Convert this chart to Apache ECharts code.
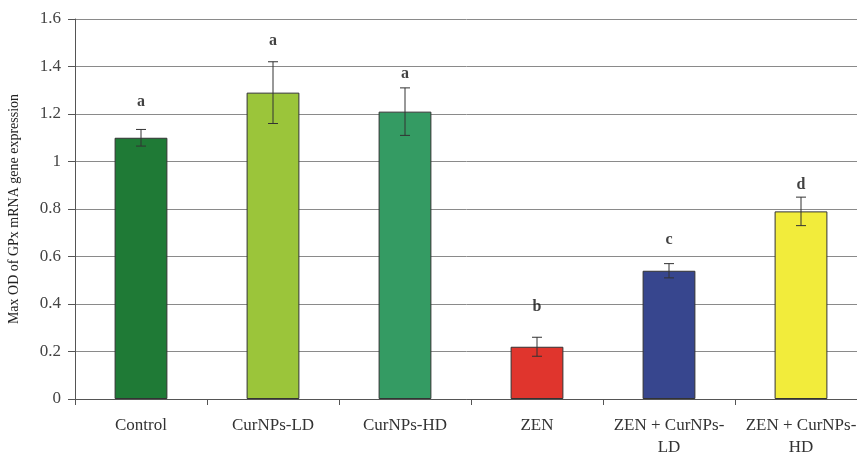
<!DOCTYPE html>
<html>
<head>
<meta charset="utf-8">
<script src="https://cdn.jsdelivr.net/npm/echarts@6/dist/echarts.min.js"></script>
<style>
  html, body { margin: 0; padding: 0; background: #fff; }
  #chart { width: 857px; height: 453px; }
</style>
</head>
<body>
<div id="chart"></div>
<script>
// valores
var categories = ['Control', 'CurNPs-LD', 'CurNPs-HD', 'ZEN', 'ZEN + CurNPs-\nLD', 'ZEN + CurNPs-\nHD'];
var means = [1.10, 1.29, 1.21, 0.22, 0.54, 0.79];
var errors = [0.035, 0.13, 0.10, 0.04, 0.03, 0.06];
var letters = ['a', 'a', 'a', 'b', 'c', 'd'];
var letterY = [1.25, 1.51, 1.37, 0.39, 0.67, 0.90];
var barColors = ['#1f7a36', '#9bc53a', '#349b63', '#e0352d', '#37468e', '#f2ec3b'];

var serif = '"Liberation Serif", "DejaVu Serif", serif';

var chart = echarts.init(document.getElementById('chart'));
chart.setOption({
  animation: false,
  grid: { left: 75, top: 19, width: 792, height: 380, outerBoundsMode: 'none', containLabel: false },
  xAxis: {
    type: 'category',
    data: categories,
    axisLine: { lineStyle: { color: '#555', width: 1 } },
    axisTick: { show: true, length: 6, lineStyle: { color: '#555' } },
    axisLabel: { color: '#333', fontFamily: serif, fontSize: 17, margin: 16, lineHeight: 22, interval: 0 }
  },
  yAxis: {
    type: 'value',
    min: 0, max: 1.6, interval: 0.2,
    name: 'Max OD of GPx mRNA gene expression',
    nameLocation: 'middle',
    nameGap: 54,
    nameTextStyle: { color: '#222', fontFamily: serif, fontSize: 14 },
    axisLine: { show: true, lineStyle: { color: '#555' } },
    axisTick: { show: true, length: 7, lineStyle: { color: '#555' } },
    axisLabel: { color: '#444', fontFamily: serif, fontSize: 17, margin: 14 },
    splitLine: { lineStyle: { color: '#8a8a8a', width: 1 } }
  },
  series: [
    {
      type: 'bar',
      barWidth: '40%',
      data: means.map(function (v, i) {
        return { value: v, itemStyle: { color: barColors[i], borderColor: '#333', borderWidth: 1 } };
      })
    },
    {
      type: 'custom',
      data: means.map(function (v, i) { return [i, v - errors[i], v + errors[i]]; }),
      renderItem: function (params, api) {
        var lo = api.coord([api.value(0), api.value(1)]);
        var hi = api.coord([api.value(0), api.value(2)]);
        var w = 5;
        var style = { stroke: '#333', lineWidth: 1 };
        return {
          type: 'group',
          children: [
            { type: 'line', shape: { x1: lo[0], y1: lo[1], x2: hi[0], y2: hi[1] }, style: style },
            { type: 'line', shape: { x1: hi[0] - w, y1: hi[1], x2: hi[0] + w, y2: hi[1] }, style: style },
            { type: 'line', shape: { x1: lo[0] - w, y1: lo[1], x2: lo[0] + w, y2: lo[1] }, style: style }
          ]
        };
      },
      z: 3
    },
    {
      type: 'scatter',
      symbolSize: 0,
      data: letterY.map(function (y, i) { return [i, y]; }),
      label: {
        show: true,
        position: 'inside',
        formatter: function (p) { return letters[p.dataIndex]; },
        color: '#111', fontFamily: serif, fontSize: 16, fontWeight: 'bold'
      }
    }
  ]
});
</script>
</body>
</html>
